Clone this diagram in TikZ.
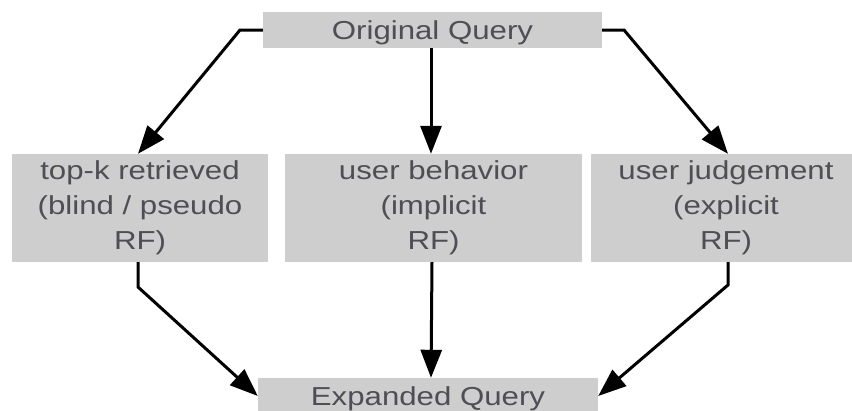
\documentclass[tikz,border=0pt]{standalone}
\usepackage{fontspec}
\setmainfont[FakeStretch=1.2]{Liberation Sans}
\usetikzlibrary{arrows.meta,calc}
\definecolor{boxfill}{RGB}{206,206,206}
\definecolor{boxtext}{RGB}{78,78,84}
\tikzset{
  box/.style={fill=boxfill, text=boxtext, inner sep=0pt, align=center,
    font=\fontsize{26pt}{35pt}\selectfont},
  onebox/.style={box, text height=23pt, text depth=5pt},
  flow/.style={line width=3pt, line join=miter,
    -{Triangle[length=28pt,width=21pt]}},
}
\begin{document}
\begin{tikzpicture}[x=1pt,y=-1pt]
  \useasboundingbox (0,0) rectangle (852,410);
  \clip (0,0) rectangle (852,410);

  % query boxes
  \node[onebox, minimum width=339pt, minimum height=36pt] (oq) at (432.5,30) {Original Query};
  \node[onebox, minimum width=340pt, minimum height=36pt] (eq) at (428,396) {Expanded Query};

  % feedback sources
  \node[box, minimum width=256pt, minimum height=108pt] (tk) at (140,208)
    {top-k retrieved\\(blind / pseudo\\RF)};
  \node[box, minimum width=297pt, minimum height=108pt] (ub) at (433.5,208)
    {user behavior\\(implicit\\RF)};
  \node[box, minimum width=270pt, minimum height=108pt] (uj) at (726,208)
    {user judgement\\(explicit\\RF)};

  % bend points
  \coordinate (a1) at (240,30);
  \coordinate (a3) at (624,30);
  \coordinate (b1) at (138,287);
  \coordinate (b3) at (728,285);

  % from the original query
  \draw[flow] (oq.west) -- (a1) -- ([xshift=-2pt]tk.north);
  \draw[flow] ([xshift=-1.5pt]oq.south) -- ([xshift=-2.5pt]ub.north);
  \draw[flow] (oq.east) -- (a3) -- ([xshift=2pt]uj.north);

  % into the expanded query
  \draw[flow] ([xshift=-2pt]tk.south) -- (b1) -- (eq.west);
  \draw[flow] ([xshift=-1.5pt]ub.south) -- ([xshift=3pt]eq.north);
  \draw[flow] ([xshift=2pt]uj.south) -- (b3) -- (eq.east);
\end{tikzpicture}
\end{document}
